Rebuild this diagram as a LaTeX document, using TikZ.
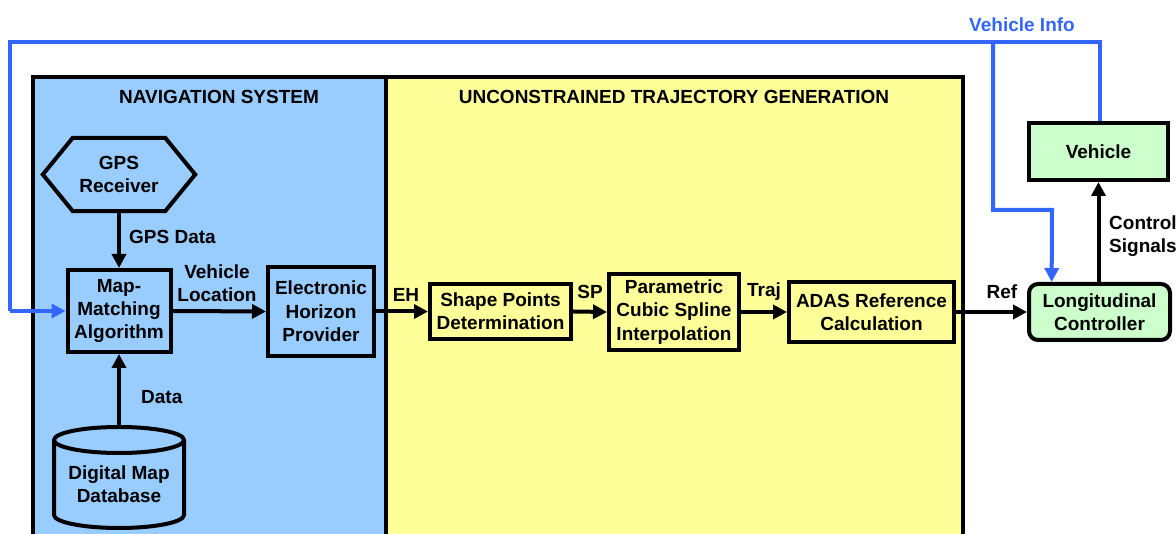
\documentclass[tikz,border=0pt]{standalone}
\usepackage{fontspec}
\setmainfont{Liberation Sans}
\usetikzlibrary{arrows.meta,calc}
\definecolor{navblue}{RGB}{153,204,255}
\definecolor{trajyellow}{RGB}{255,255,153}
\definecolor{ctrlgreen}{RGB}{204,255,204}
\definecolor{infoblue}{RGB}{51,102,255}
\begin{document}
\begin{tikzpicture}[x=1pt,y=1pt,
  font=\fontsize{19}{23.3}\selectfont\bfseries,
  block/.style={draw=black, line width=4pt, align=center, inner sep=2pt},
  label/.style={align=center, inner sep=0pt},
  flow/.style={line width=4pt, -{Triangle[length=14pt,width=14pt]}},
  info/.style={draw=infoblue, line width=4pt},
  infoarrow/.style={info, -{Triangle[length=14pt,width=14pt]}}]
\useasboundingbox (0,0) rectangle (1176,534);

% system frames
\draw[line width=4pt, fill=navblue] (33,457) rectangle (386,-10);
\draw[line width=4pt, fill=trajyellow] (386,457) rectangle (963,-10);
\node[label] (navtitle) at (219,437) {NAVIGATION SYSTEM};
\node[label] (trajtitle) at (674,437) {UNCONSTRAINED TRAJECTORY GENERATION};

% GPS receiver (hexagon)
\node[label, minimum width=152pt, minimum height=73pt] (gps) at (119,359.5) {GPS\\Receiver};
\draw[line width=4pt, line join=miter]
  (gps.west) -- ($(gps.north west)+(30,0)$) -- ($(gps.north east)+(-30,0)$)
  -- (gps.east) -- ($(gps.south east)+(-30,0)$) -- ($(gps.south west)+(30,0)$) -- cycle;

% navigation blocks
\node[block, minimum width=103pt, minimum height=82pt] (mm) at (119,223) {Map-\\Matching\\Algorithm};
\node[block, minimum width=106pt, minimum height=89pt] (ehp) at (321,222.5) {Electronic\\Horizon\\Provider};

% digital map database (cylinder)
\coordinate (dbtop) at (119,107);
\draw[line width=4pt, fill=navblue]
  (54,94) -- (54,19) arc (180:360:65 and 13) -- (184,94);
\draw[line width=4pt, fill=navblue] (119,94) ellipse (65 and 13);
\node[label] (db) at (119,50) {Digital Map\\Database};

% trajectory generation blocks
\node[block, minimum width=141pt, minimum height=55pt] (spd) at (500.5,222.5) {Shape Points\\Determination};
\node[block, minimum width=130pt, minimum height=76pt] (pcs) at (674,222) {Parametric\\Cubic Spline\\Interpolation};
\node[block, minimum width=165pt, minimum height=60pt] (adas) at (871.5,222) {ADAS Reference\\Calculation};

% control loop blocks
\node[block, fill=ctrlgreen, rounded corners=9pt, minimum width=141pt, minimum height=56pt] (lc) at (1099.5,222) {Longitudinal\\Controller};
\node[block, fill=ctrlgreen, minimum width=139pt, minimum height=57pt] (veh) at (1098.5,382.5) {Vehicle};

% signal flow
\draw[flow] (gps.south) -- (mm.north);
\draw[flow] (dbtop) -- (mm.south);
\draw[flow] (mm.east) -- (ehp.west);
\draw[flow] (ehp.east) -- (spd.west);
\draw[flow] (spd.east) -- (pcs.west);
\draw[flow] (pcs.east) -- (adas.west);
\draw[flow] (adas.east) -- (lc.west);
\draw[flow] (lc.north -| veh.south) -- (veh.south);

% vehicle info feedback
\coordinate (fbtopright) at (1100,492);
\coordinate (fbtopleft) at (10,492);
\coordinate (fbbranch) at (993,492);
\coordinate (fbturn) at (993,324);
\draw[info] (veh.north -| fbtopright) -- (fbtopright) -- (fbtopleft) -- (fbtopleft |- mm.west);
\draw[infoarrow] (fbtopleft |- mm.west) -- (mm.west);
\draw[infoarrow, line join=miter] (fbbranch) -- (fbturn) -- (fbturn -| 1052,0) -- ($(lc.north west)!0.17!(lc.north east)$);

% labels
\node[label, anchor=west] (lgps) at (129,297) {GPS Data};
\node[label, anchor=west] (ldata) at (141,137) {Data};
\node[label] (lvl) at (217,250.5) {Vehicle\\Location};
\node[label] (leh) at (406,239) {EH};
\node[label] (lsp) at (590,242) {SP};
\node[label] (ltraj) at (764,242) {Traj};
\node[label] (lref) at (1002,242) {Ref};
\node[label, anchor=west, align=left] (lcs) at (1109,298) {Control\\Signals};
\node[label, text=infoblue] (linfo) at (1022,509) {Vehicle Info};
\end{tikzpicture}
\end{document}
